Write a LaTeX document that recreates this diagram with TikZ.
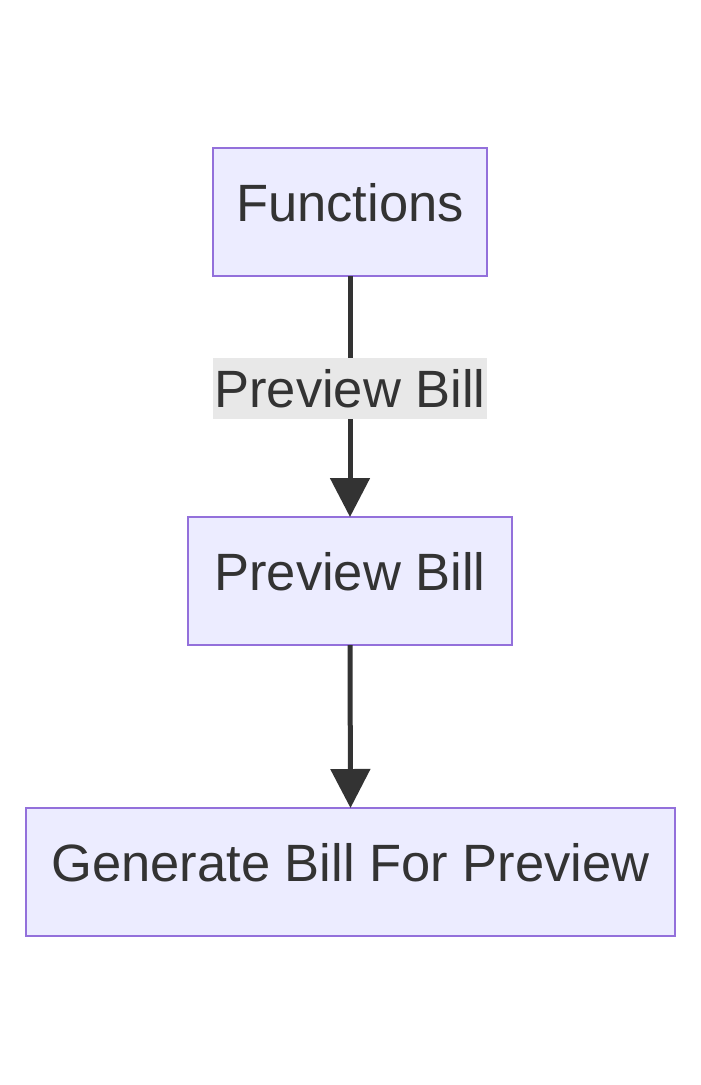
\documentclass[tikz,border=0pt]{standalone}
\usepackage{fontspec}
\setmainfont{Liberation Sans}
\usetikzlibrary{arrows.meta}
\definecolor{nodefill}{HTML}{ECECFF}
\definecolor{nodeline}{HTML}{9370DB}
\definecolor{ink}{HTML}{333333}
\definecolor{labelbg}{HTML}{E8E8E8}
\tikzset{
  flowbox/.style={draw=nodeline, fill=nodefill, line width=2.5pt, inner sep=0pt, outer sep=0pt, minimum height=128pt, text height=38pt, text depth=20pt, text=ink, font=\fontsize{52.5}{60}\selectfont},
  edgelabel/.style={fill=labelbg, inner sep=0pt, minimum width=274pt, minimum height=61pt, text height=38pt, text depth=0pt, text=ink, font=\fontsize{52.5}{60}\selectfont},
  flowarrow/.style={draw=ink, line width=5pt, -{Triangle[length=39pt,width=39pt]}}
}
\begin{document}
\begin{tikzpicture}[x=1pt,y=-1pt]
\useasboundingbox (0,0) rectangle (701,1085);
\node[flowbox, minimum width=274pt] (fn) at (350,212) {Functions};
\node[flowbox, minimum width=324pt] (pb) at (350,581) {Preview Bill};
\node[flowbox, minimum width=649pt] (gb) at (350.5,872) {Generate Bill For Preview};
\draw[flowarrow] (fn.south) -- (pb.north);
\node[edgelabel] (lbl) at (350,388.5) {Preview Bill};
\draw[flowarrow] (pb.south) -- (gb.north);
\end{tikzpicture}
\end{document}
